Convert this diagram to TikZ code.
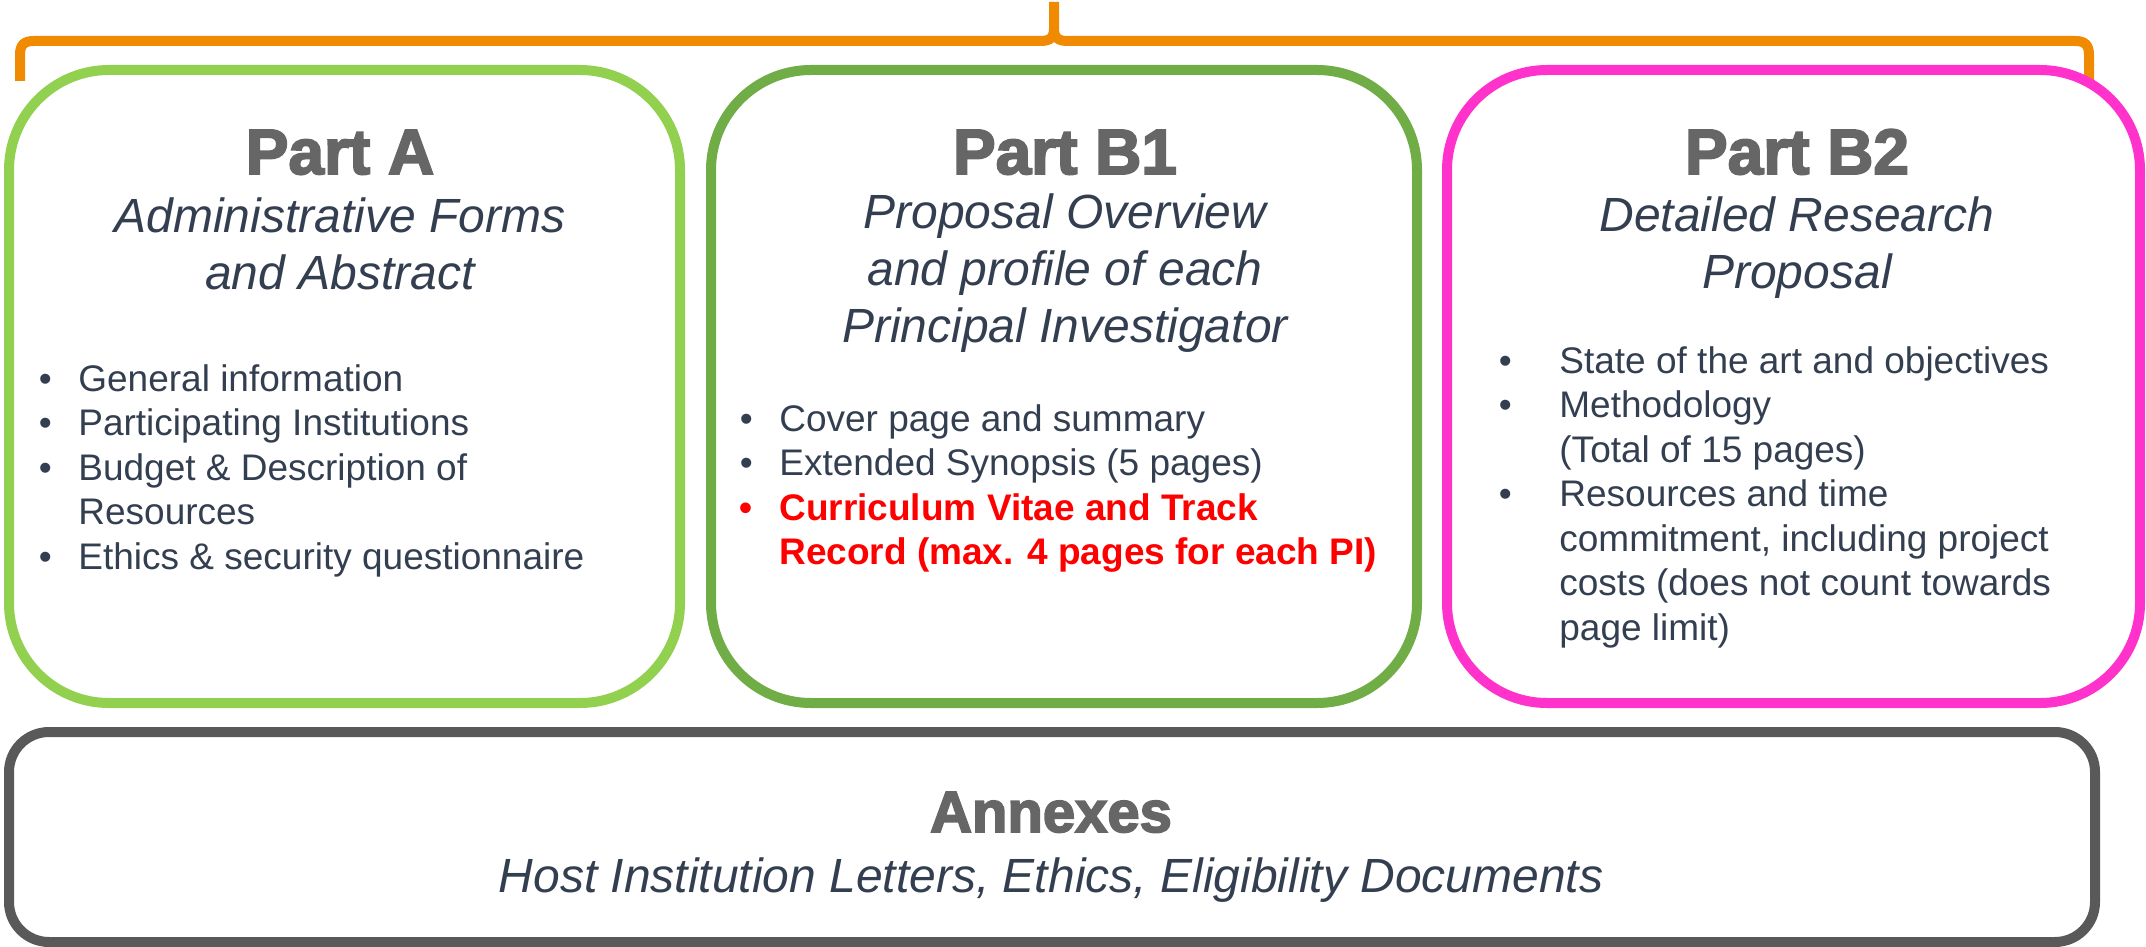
\documentclass[tikz,border=0pt]{standalone}
\usepackage{fontspec}
\setmainfont{Liberation Sans}
\newfontfamily\headfont{Liberation Sans}[UprightFont={* Bold}, UprightFeatures={FakeBold=3}]
\definecolor{partA}{HTML}{92D050}
\definecolor{partB1}{HTML}{70AD47}
\definecolor{partB2}{HTML}{FF33CC}
\definecolor{annexgray}{HTML}{595959}
\definecolor{braceorange}{HTML}{F08A00}
\definecolor{titlegray}{HTML}{666666}
\definecolor{textblue}{HTML}{333F50}
\definecolor{cvred}{HTML}{FF0000}
\newcommand\bul[1]{\llap{\makebox[#1]{\textbullet}}}
\tikzset{
  box/.style={line width=5pt, rounded corners=50pt},
  bracestyle/.style={draw=braceorange, line width=5pt},
  title/.style={font=\headfont\fontsize{32}{38}\selectfont, text=titlegray, anchor=base, inner sep=0pt},
  sub/.style={font=\itshape\fontsize{24}{28.5}\selectfont, text=textblue, align=center, anchor=base, inner sep=0pt},
  list/.style={font=\fontsize{18.5}{22.25}\selectfont, text=textblue, align=left, anchor=base west, inner sep=0pt},
}
\begin{document}
\begin{tikzpicture}[x=0.5pt,y=-0.5pt]
\useasboundingbox (0,0) rectangle (2146,947);
% brace
\draw[bracestyle] (20,81) -- (20,55) .. controls (20,45) and (24,41) .. (34,41) -- (1040,41) .. controls (1050,41) and (1054,38) .. (1054,28) -- (1054,2);
\draw[bracestyle] (2089,81) -- (2089,55) .. controls (2089,45) and (2085,41) .. (2075,41) -- (1068,41) .. controls (1058,41) and (1054,38) .. (1054,28);
% boxes
\draw[box, draw=partA] (9,70) rectangle (680,703);
\draw[box, draw=partB1] (711,70) rectangle (1417,703);
\draw[box, draw=partB2] (1447,70) rectangle (2140,703);
\draw[box, draw=annexgray, rounded corners=20pt] (9,732) rectangle (2095,942);
% Part A  (multi-line nodes: anchor base = last line's baseline)
\node[title] (ta) at (340,174) {Part A};
\node[sub] (sa) at (340,289) {Administrative Forms\\and Abstract};
\node[list] (la) at (78,569) {\bul{33pt}General information\\\bul{33pt}Participating Institutions\\\bul{33pt}Budget \& Description of\\Resources\\\bul{33pt}Ethics \& security questionnaire};
% Part B1
\node[title] (tb1) at (1065,174) {Part B1};
\node[sub] (sb1) at (1065,342) {Proposal Overview\\and profile of each\\Principal Investigator};
\node[list] (lb1) at (779,564.5) {\bul{33pt}Cover page and summary\\\bul{33pt}Extended Synopsis (5 pages)\\{\color{cvred}\bfseries\bul{33pt}Curriculum Vitae and Track}\\{\color{cvred}\bfseries Record (max. 4 pages for each PI)}};
% Part B2
\node[title] (tb2) at (1797,174) {Part B2};
\node[sub] (sb2) at (1797,288) {Detailed Research\\Proposal};
\node[list] (lb2) at (1559,640) {\bul{54pt}State of the art and objectives\\\bul{54pt}Methodology\\(Total of 15 pages)\\\bul{54pt}Resources and time\\commitment, including project\\costs (does not count towards\\page limit)};
% Annexes
\node[title, font=\headfont\fontsize{29}{34}\selectfont] (tan) at (1051,832) {Annexes};
\node[sub] (san) at (1051,892) {Host Institution Letters, Ethics, Eligibility Documents};
\end{tikzpicture}
\end{document}
